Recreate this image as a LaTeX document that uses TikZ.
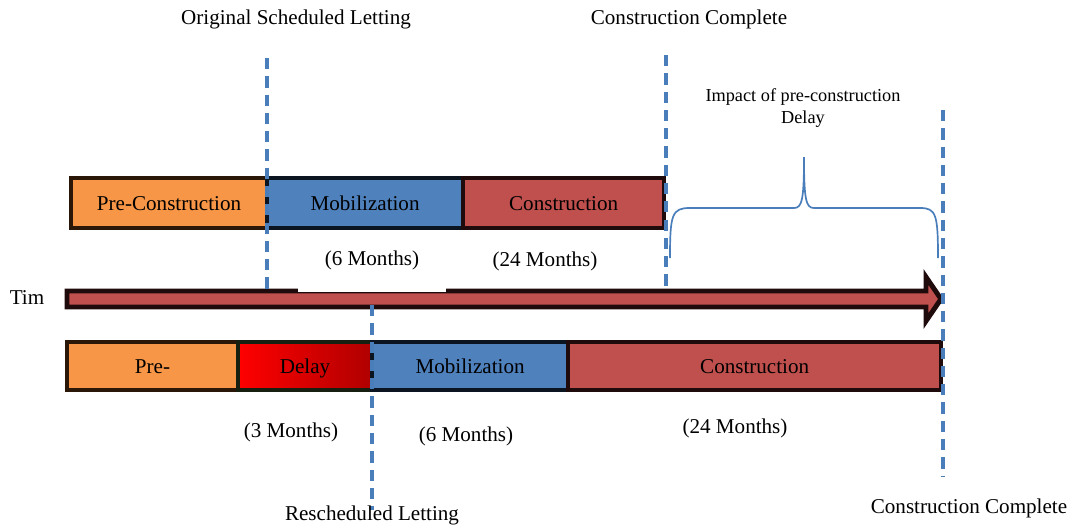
\documentclass[tikz,border=0pt]{standalone}
\usepackage{fontspec}
\setmainfont{Liberation Serif}
\usetikzlibrary{positioning}
\definecolor{preorange}{HTML}{F79646}
\definecolor{mobblue}{HTML}{4F81BD}
\definecolor{consred}{HTML}{C0504D}
\definecolor{delaydark}{HTML}{B00000}
\definecolor{markblue}{HTML}{4A7EBB}
\definecolor{edgebrown}{HTML}{2B1708}
\definecolor{edgenavy}{HTML}{0B1522}
\definecolor{edgegreen}{HTML}{172010}
\definecolor{edgedark}{HTML}{1F0B0B}

\begin{document}
\begin{tikzpicture}[x=0.025cm, y=-0.025cm,
    phase/.style = {rectangle, line width=3pt, inner sep=0pt, outer sep=0pt, text height=13pt, text depth=1.7pt, font=\fontsize{15}{18}\selectfont},
    marker/.style = {draw=markblue, line width=2.3pt, dash pattern=on 8pt off 5pt},
    lbl/.style = {inner sep=0pt, font=\fontsize{15}{18}\selectfont}]
  \useasboundingbox (0,0) rectangle (1072,527);

  % original schedule
  \node[phase, draw=edgebrown, fill=preorange, minimum width=4.9cm, minimum height=1.25cm, anchor=west] (pretop) at (71,203) {Pre-Construction};
  \node[phase, draw=edgenavy, fill=mobblue, minimum width=4.9cm, minimum height=1.25cm] (mobtop) [right=0pt of pretop] {Mobilization};
  \node[phase, draw=edgedark, fill=consred, minimum width=5.025cm, minimum height=1.25cm] (constop) [right=0pt of mobtop] {Construction};

  % rescheduled
  \node[phase, draw=edgebrown, fill=preorange, minimum width=4.275cm, minimum height=1.2cm, anchor=west] (prebot) at (67,366) {Pre-};
  \node[phase, draw=edgegreen, left color=red, right color=delaydark, minimum width=3.35cm, minimum height=1.2cm] (delaybot) [right=0pt of prebot] {Delay};
  \node[phase, draw=edgenavy, fill=mobblue, minimum width=4.9cm, minimum height=1.2cm] (mobbot) [right=0pt of delaybot] {Mobilization};
  \node[phase, draw=edgedark, fill=consred, minimum width=9.325cm, minimum height=1.2cm] (consbot) [right=0pt of mobbot] {Construction};

  % time axis
  \node[lbl] (timelbl) at (27,298) {Tim};
  \draw[draw=edgedark, fill=consred, line width=3.5pt, line join=miter]
    (67,291) -- (926,291) -- (926,277) -- (941,299) -- (926,321) -- (926,307) -- (67,307) -- cycle;
  \node[lbl, anchor=base, fill=white, text height=12pt, text depth=19pt, minimum width=3.675cm] (mobtopmonths) at (372,265) {(6 Months)};
  \node[lbl] (constopmonths) at (545,261) {(24 Months)};

  % letting and completion markers
  \draw[marker] (267,58) -- (267,290);
  \draw[marker] (666,55) -- (666,290);
  \draw[marker] (943,110) -- (943,477);
  \draw[marker] (372,305) -- (372,510);

  % impact brace
  \draw[markblue, line width=1.2pt]
    (670,258) .. controls (670,214) and (672,208) .. (690,208) -- (794,208)
    .. controls (802,208) and (804,200) .. (804,157)
    .. controls (804,200) and (806,208) .. (814,208) -- (920,208)
    .. controls (936,208) and (938,214) .. (938,258);
  \node[lbl, align=center, font=\fontsize{13}{15.5}\selectfont] (impactlbl) at (803,108) {Impact of pre-construction\\Delay};

  \node[lbl] (origlbl) at (296,19) {Original Scheduled Letting};
  \node[lbl] (cctoplbl) at (689,19) {Construction Complete};
  \node[lbl] (delaymonths) at (291,432) {(3 Months)};
  \node[lbl] (mobbotmonths) at (466,436) {(6 Months)};
  \node[lbl] (consbotmonths) at (735,428) {(24 Months)};
  \node[lbl] (reschedlbl) at (372,515) {Rescheduled Letting};
  \node[lbl] (ccbotlbl) at (969,508) {Construction Complete};
\end{tikzpicture}
\end{document}
